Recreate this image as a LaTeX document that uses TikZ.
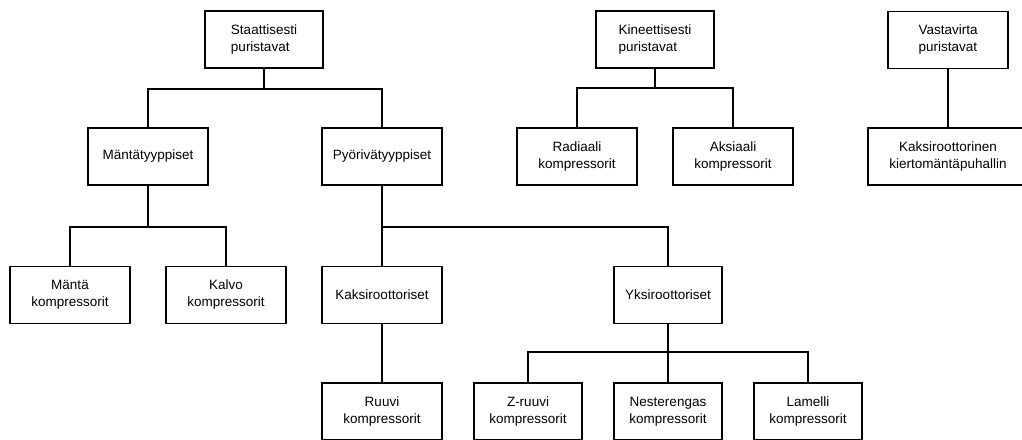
\documentclass[tikz,border=0pt]{standalone}
\usepackage{fontspec}
\setmainfont{Liberation Sans}
\tikzset{
  box/.style={draw, line width=1.6pt, minimum height=57pt, align=center,
    font=\fontsize{13.5}{17}\selectfont},
  topbox/.style={box, align=left},
  link/.style={line width=1.6pt}
}
\begin{document}
\begin{tikzpicture}[x=1pt, y=-1pt]
        \useasboundingbox (0,0) rectangle (1022,439);
        % Draw the main groups
        \node[topbox, minimum width=118pt] (stat) at (264,39.5) {Staattisesti\\puristavat};
        \node[topbox, minimum width=118pt] (kine) at (655,39.5) {Kineettisesti\\puristavat};
        \node[topbox, minimum width=120pt] (vast) at (948,40) {Vastavirta\\puristavat};
        % Draw the second row
        \node[box, minimum width=120pt] (mant) at (148,156.5) {Mäntätyyppiset};
        \node[box, minimum width=120pt] (pyor) at (382,156.5) {Pyörivätyyppiset};
        \node[box, minimum width=120pt] (radi) at (577,156.5) {Radiaali\\kompressorit};
        \node[box, minimum width=120pt] (aksi) at (733,156.5) {Aksiaali\\kompressorit};
        \node[box, minimum width=160pt] (kier) at (948,156.5) {Kaksiroottorinen\\kiertomäntäpuhallin};
        % Draw the third row
        \node[box, minimum width=120pt] (mnta) at (70,295) {Mäntä\\kompressorit};
        \node[box, minimum width=120pt] (kalv) at (226,295) {Kalvo\\kompressorit};
        \node[box, minimum width=120pt] (kaks) at (382,295) {Kaksiroottoriset};
        \node[box, minimum width=108pt] (yksi) at (668,295) {Yksiroottoriset};
        % Draw the bottom row
        \node[box, minimum width=120pt] (ruuv) at (382,411.5) {Ruuvi\\kompressorit};
        \node[box, minimum width=108pt] (zruu) at (528,411.5) {Z-ruuvi\\kompressorit};
        \node[box, minimum width=108pt] (nest) at (668,411.5) {Nesterengas\\kompressorit};
        \node[box, minimum width=108pt] (lame) at (808,411.5) {Lamelli\\kompressorit};
        % Draw the junctions
        \coordinate (jstat) at (264,89);
        \coordinate (jkine) at (655,88);
        \coordinate (jmant) at (148,227);
        \coordinate (jpyor) at (382,227);
        \coordinate (jyksi) at (668,352);
        % Draw the links
        \draw[link] (stat.south) -- (jstat);
        \draw[link] (mant.north) |- (jstat) -| (pyor.north);
        \draw[link] (kine.south) -- (jkine);
        \draw[link] (radi.north) |- (jkine) -| (aksi.north);
        \draw[link] (vast.south) -- (kier.north);
        \draw[link] (mant.south) -- (jmant);
        \draw[link] (mnta.north) |- (jmant) -| (kalv.north);
        \draw[link] (pyor.south) -- (kaks.north);
        \draw[link] (jpyor) -| (yksi.north);
        \draw[link] (kaks.south) -- (ruuv.north);
        \draw[link] (yksi.south) -- (nest.north);
        \draw[link] (zruu.north) |- (jyksi) -| (lame.north);
    \end{tikzpicture}
\end{document}
